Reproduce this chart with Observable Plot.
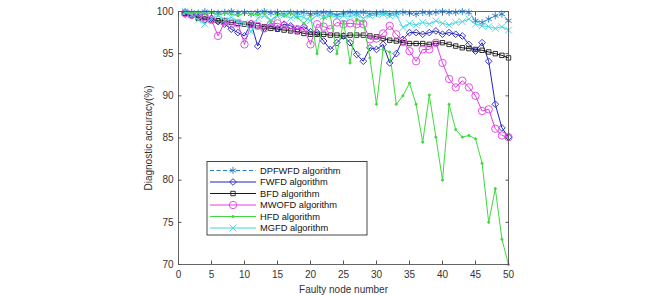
<!DOCTYPE html>
<html><head><meta charset="utf-8">
<script src="https://cdn.jsdelivr.net/npm/d3@7"></script>
<script src="https://cdn.jsdelivr.net/npm/@observablehq/plot@0.6"></script>
<style>body{margin:0;background:#fff;} #chart{width:660px;height:295px;}</style>
</head><body><div id="chart"></div>
<script>
const nodes = [1,2,3,4,5,6,7,8,9,10,11,12,13,14,15,16,17,18,19,20,21,22,23,24,25,26,27,28,29,30,31,32,33,34,35,36,37,38,39,40,41,42,43,44,45,46,47,48,49,50];
const dpfwfd = [100,99.9,99.8,100,99.9,99.8,99.9,100,99.8,99.9,99.7,99.9,100,99.8,99.9,99.7,99.9,99.8,99.9,99.7,99.8,99.9,99.8,99.6,99.8,99.9,99.8,99.9,99.7,99.8,99.9,99.7,99.8,99.9,99.8,99.7,99.9,99.8,99.9,100,99.9,99.9,100,99.9,98.9,98.7,99.1,99.5,99.7,98.9];
const fwfd = [99.7,99.5,99.3,99.0,99.2,98.8,98.5,97.9,97.5,97.1,98.6,95.9,98.0,98.3,98.0,98.5,98.3,97.9,98.2,97.6,97.5,96.5,95.5,96.3,97.1,96.3,94.9,94.1,95.7,95.5,96.1,93.9,95.0,96.7,97.5,97.5,97.3,97.5,97.7,97.3,97.5,97.3,97.1,96.1,95.3,96.3,94.1,89.0,86.2,85.1];
const bfd = [99.8,99.6,99.2,99.4,99.0,98.9,98.9,98.7,98.6,98.5,98.4,98.3,98.2,98.0,97.9,97.8,97.7,97.6,97.4,97.3,97.3,97.3,97.2,97.2,97.1,97.2,97.2,97.2,97.1,97.0,96.8,96.6,96.5,96.3,96.2,96.2,96.2,96.1,96.2,96.3,96.1,95.9,95.7,95.6,95.5,95.4,95.2,95.0,94.8,94.5];
const mwofd = [99.8,99.6,99.5,99.3,99.0,97.1,98.8,98.5,98.6,96.1,98.5,98.3,98.0,98.5,98.6,98.3,98.0,97.9,98.0,96.1,98.5,98.2,97.9,98.7,98.5,98.6,98.5,98.5,96.7,96.8,97.4,98.3,97.3,96.5,95.3,94.1,95.5,95.5,96.3,93.9,92.0,91.0,91.8,91.0,90.0,88.2,88.4,86.1,85.3,85.1];
const hfd = [100,99.8,99.9,99.7,99.9,99.6,99.8,99.7,99.5,99.8,99.7,99.6,99.8,98.8,99.7,99.5,99.8,99.3,98.6,99.5,95.0,99.2,99.5,95.0,98.8,93.9,99.1,98.8,94.5,89.0,95.5,95.2,89.0,90.0,91.5,89.0,84.5,90.1,85.1,80.0,89.0,86.0,85.1,85.3,84.9,82.0,75.0,79.0,73.0,70.0];
const mgfd = [100,99.6,99.0,98.5,99.2,99.5,99.0,99.3,98.8,98.6,97.6,99.2,99.5,99.0,99.4,99.6,99.2,99.5,99.3,98.9,99.6,99.4,99.6,99.3,99.5,99.4,99.6,99.2,99.5,99.6,99.7,99.5,99.6,98.1,98.6,98.4,98.7,98.5,98.9,98.6,98.4,98.7,98.8,99.1,98.5,98.3,98.2,98.0,98.2,97.8];
const seriesNames = ["DPFWFD algorithm","FWFD algorithm","BFD algorithm","MWOFD algorithm","HFD algorithm","MGFD algorithm"];
const seriesValues = [dpfwfd, fwfd, bfd, mwofd, hfd, mgfd];
const xTicks = [0,5,10,15,20,25,30,35,40,45,50];
const yTicks = [70,75,80,85,90,95,100];

const styles = [
  {color:"#2b7bc4", symbol:"asterisk", r:3.4, dash:"4,2.5", fill:"none"},
  {color:"#2323c0", symbol:"diamond2", r:3.0, dash:null, fill:"none"},
  {color:"#1a1a1a", symbol:"square", r:2.5, dash:null, fill:"none"},
  {color:"#e23ee2", symbol:"circle", r:3.7, dash:null, fill:"none"},
  {color:"#3fd93f", symbol:"circle", r:1.1, dash:null, fill:"#3fd93f"},
  {color:"#3fd8e0", symbol:"times", r:3.2, dash:null, fill:"none"}
];

const rowsFor = i => seriesValues[i].map((v, j) => ({series: seriesNames[i], x: nodes[j], y: v}));

const font = "'Liberation Sans', Arial, sans-serif";
const marks = [];
seriesNames.forEach((name, i) => {
  const s = styles[i];
  const data = rowsFor(i);
  marks.push(Plot.line(data, {x:"x", y:"y", stroke:s.color, strokeWidth:1, strokeDasharray:s.dash}));
  marks.push(Plot.dot(data, {x:"x", y:"y", stroke:s.color, fill:s.fill, r:s.r, symbol:s.symbol, strokeWidth:0.9}));
});

const plot = Plot.plot({
  width: 660, height: 295,
  marginLeft: 178, marginRight: 152, marginTop: 11, marginBottom: 31,
  style: {fontFamily: font, fontSize: "10px", color: "#333", background: "#fff"},
  x: {domain: [0,50]},
  y: {domain: [70,100]},
  marks: [
    ...marks,
    Plot.frame({stroke:"#555", strokeWidth:0.9}),
    Plot.axisX({ticks:xTicks, tickSize:0, tickPadding:6, fontSize:10, label:"Faulty node number", labelAnchor:"center", labelArrow:"none", labelOffset:28}),
    Plot.axisX({ticks:xTicks, tickSize:-3.5, tickFormat:()=>"", label:null, stroke:"#555"}),
    Plot.axisX({anchor:"top", ticks:xTicks, tickSize:-3.5, tickFormat:()=>"", label:null, stroke:"#555"}),
    Plot.axisY({ticks:yTicks, tickSize:0, tickPadding:5, fontSize:10, label:"Diagnostic accuracy(%)", labelAnchor:"center", labelArrow:"none", labelOffset:34}),
    Plot.axisY({ticks:yTicks, tickSize:-3.5, tickFormat:()=>"", label:null, stroke:"#555"}),
    Plot.axisY({anchor:"right", ticks:yTicks, tickSize:-3.5, tickFormat:()=>"", label:null, stroke:"#555"})
  ]
});
document.getElementById("chart").appendChild(plot);

// legend
const svg = d3.select(plot);
const lg = svg.append("g").attr("font-family", font).attr("font-size", 9.3).attr("text-anchor","start");
lg.append("rect").attr("x",207).attr("y",161.5).attr("width",160).attr("height",73.5)
  .attr("fill","#fff").attr("stroke","#333").attr("stroke-width",0.9);
const symMap = {asterisk:d3.symbolAsterisk, diamond2:d3.symbolDiamond2, square:d3.symbolSquare, circle:d3.symbolCircle, times:d3.symbolTimes};
seriesNames.forEach((name, i) => {
  const s = styles[i];
  const cy = 170.5 + i*11.5;
  lg.append("line").attr("x1",210).attr("x2",256).attr("y1",cy).attr("y2",cy)
    .attr("stroke",s.color).attr("stroke-width",1.1).attr("stroke-dasharray",s.dash);
  lg.append("path").attr("transform",`translate(233,${cy})`)
    .attr("d", d3.symbol(symMap[s.symbol], Math.PI*s.r*s.r)())
    .attr("fill", s.fill).attr("stroke", s.color).attr("stroke-width",0.9);
  lg.append("text").attr("x",260).attr("y",cy).attr("dy","0.35em").attr("text-anchor","start").attr("fill","#111").text(name);
});
</script>
</body></html>
